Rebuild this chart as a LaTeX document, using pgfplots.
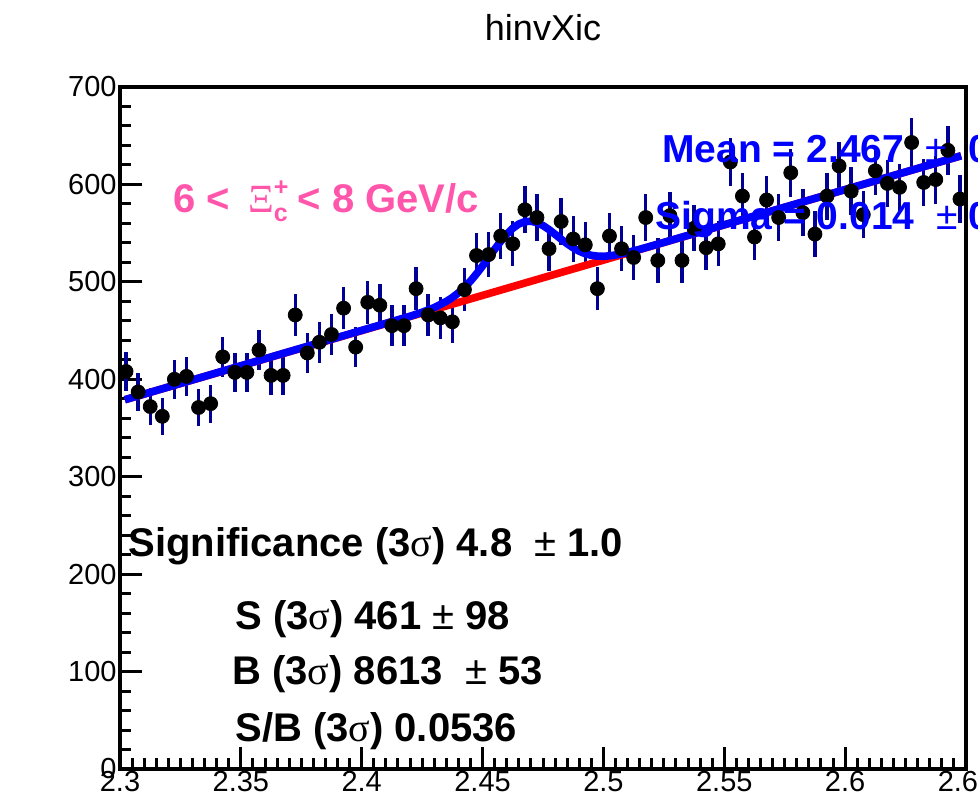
\documentclass[border=0pt]{standalone}
\usepackage{pgfplots}
\pgfplotsset{compat=1.18}
\usepackage{fontspec}
\setmainfont{Liberation Sans}
\newfontfamily\serif{Liberation Serif}
\definecolor{errblue}{RGB}{0,0,150}
\definecolor{fitblue}{RGB}{0,0,255}
\definecolor{fitred}{RGB}{255,0,0}
\definecolor{pinktext}{RGB}{255,85,170}
\pgfplotstableread{
x y e
2.3025 408 20.2
2.3075 387 19.7
2.3125 372 19.3
2.3175 362 19.0
2.3225 400 20.0
2.3275 403 20.1
2.3325 371 19.3
2.3375 375 19.4
2.3425 423 20.6
2.3475 407 20.2
2.3525 407 20.2
2.3575 430 20.7
2.3625 404 20.1
2.3675 404 20.1
2.3725 466 21.6
2.3775 427 20.7
2.3825 438 20.9
2.3875 446 21.1
2.3925 473 21.7
2.3975 433 20.8
2.4025 479 21.9
2.4075 476 21.8
2.4125 455 21.3
2.4175 455 21.3
2.4225 493 22.2
2.4275 466 21.6
2.4325 463 21.5
2.4375 459 21.4
2.4425 492 22.2
2.4475 527 23.0
2.4525 528 23.0
2.4575 547 23.4
2.4625 539 23.2
2.4675 574 24.0
2.4725 566 23.8
2.4775 534 23.1
2.4825 562 23.7
2.4875 544 23.3
2.4925 538 23.2
2.4975 493 22.2
2.5025 547 23.4
2.5075 534 23.1
2.5125 525 22.9
2.5175 566 23.8
2.5225 522 22.8
2.5275 568 23.8
2.5325 522 22.8
2.5375 555 23.6
2.5425 535 23.1
2.5475 539 23.2
2.5525 623 25.0
2.5575 588 24.2
2.5625 546 23.4
2.5675 584 24.2
2.5725 566 23.8
2.5775 612 24.7
2.5825 571 23.9
2.5875 549 23.4
2.5925 588 24.2
2.5975 619 24.9
2.6025 593 24.4
2.6075 569 23.9
2.6125 614 24.8
2.6175 601 24.5
2.6225 597 24.4
2.6275 643 25.4
2.6325 602 24.5
2.6375 605 24.6
2.6425 635 25.2
2.6475 585 24.2
}\histdata
\begin{document}
\begin{tikzpicture}
\useasboundingbox (0,0) rectangle (489pt,400.5pt);
\clip (0,0) rectangle (489pt,400.5pt);
\begin{axis}[
  at={(60pt,16pt)}, anchor=south west,
  scale only axis, width=423pt, height=341pt,
  xmin=2.3, xmax=2.65, ymin=0, ymax=700,
  xtick={2.3,2.35,2.4,2.45,2.5,2.55,2.6,2.65},
  ytick={0,100,200,300,400,500,600,700},
  minor x tick num=9, minor y tick num=4,
  tick align=inside, xtick pos=bottom, ytick pos=left,
  major tick length=11pt, minor tick length=5.5pt,
  tick style={line width=1.5pt, black},
  axis line style={line width=2pt},
  /pgf/number format/assume math mode=true,
  tick label style={font=\fontsize{14.5}{17}\selectfont},
  xticklabel style={/pgf/number format/fixed, /pgf/number format/precision=2, inner sep=1pt},
  yticklabel style={inner sep=1.5pt},
  scaled x ticks=false,
]
\addplot[only marks, mark=*, mark size=3.5pt, mark options={fill=black, draw=black},
  error bars/.cd, y dir=both, y explicit, error mark=none,
  error bar style={line width=1.7pt, errblue}]
  table[x=x, y=y, y error=e] {\histdata};
\addplot[fitred, line width=3.8pt] coordinates {(2.302,379.0) (2.648,629.4)};
\addplot[fitblue, line width=3.8pt, line join=round] coordinates {
(2.302,379.0) (2.42,464.7) (2.425,468.8) (2.43,473.6) (2.435,479.9) (2.4375,483.9)
(2.44,488.7) (2.4425,494.3) (2.445,500.8) (2.4475,508.3) (2.45,516.3) (2.4525,524.9)
(2.455,533.4) (2.4575,541.6) (2.46,549.0) (2.4625,555.0) (2.465,559.4) (2.4675,561.8)
(2.47,562.2) (2.4725,560.8) (2.475,557.8) (2.4775,553.6) (2.48,548.8) (2.4825,543.8)
(2.485,539.1) (2.4875,534.9) (2.49,531.4) (2.4925,528.9) (2.495,527.2) (2.4975,526.4)
(2.5,526.2) (2.5025,526.7) (2.505,527.6) (2.5075,528.8) (2.51,530.2) (2.515,533.4)
(2.52,536.9) (2.648,629.4)};
\end{axis}
\node[anchor=base, inner sep=0pt, font=\fontsize{18}{20}\selectfont] at (271.5pt,380pt) {hinvXic};
\node[anchor=base west, inner sep=0pt, text=pinktext, font=\fontsize{20}{22}\selectfont\bfseries] at (86.5pt,294pt)
  {6 <\hspace{0.45em}{\serif\mdseries Ξ}\rlap{\raisebox{8.5pt}{\fontsize{12.5}{13}\selectfont +}}\raisebox{-4.5pt}{\fontsize{12.5}{13}\selectfont c}\hspace{0.25em}< 8 GeV/c};
\node[anchor=base west, inner sep=0pt, text=fitblue, font=\fontsize{19.5}{22}\selectfont\bfseries] at (331pt,319pt)
  {Mean = 2.467\ \ {\mdseries ±}\ \ 0.002};
\node[anchor=base west, inner sep=0pt, text=fitblue, font=\fontsize{19.5}{22}\selectfont\bfseries] at (327.5pt,285.5pt)
  {Sigma = 0.014\ \ {\mdseries ±} 0.003};
\begin{scope}[every node/.style={anchor=base west, inner sep=0pt, font=\fontsize{20}{22}\selectfont\bfseries}]
\node at (64pt,122pt) {Significance (3{\serif\mdseries σ}) 4.8\ \ {\mdseries ±} 1.0};
\node at (117.5pt,85.5pt) {S (3{\serif\mdseries σ}) 461 {\mdseries ±} 98};
\node at (116pt,58pt) {B (3{\serif\mdseries σ}) 8613\ \ {\mdseries ±} 53};
\node at (117.5pt,29.5pt) {S/B (3{\serif\mdseries σ}) 0.0536};
\end{scope}
\end{tikzpicture}
\end{document}
